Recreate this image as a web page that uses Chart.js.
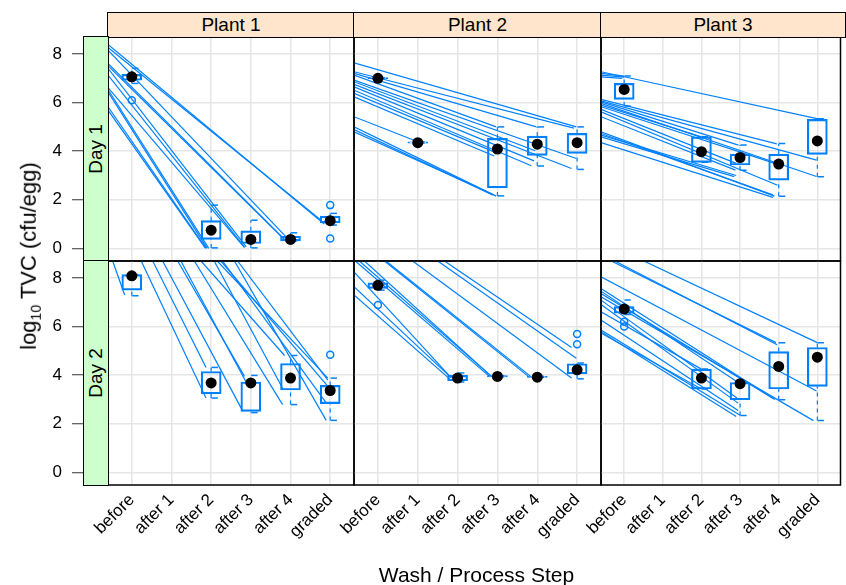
<!DOCTYPE html>
<html>
<head>
<meta charset="utf-8">
<script src="https://cdn.jsdelivr.net/npm/chart.js@4.4.1/dist/chart.umd.min.js"></script>
<style>
  html, body { margin: 0; padding: 0; background: #fff; }
  #wrap { position: relative; width: 846px; height: 585px; overflow: hidden;
          font-family: "Liberation Sans", Arial, sans-serif; color: #000; }
  #wrap canvas { position: absolute; left: 0; top: 0; }
  .strip { position: absolute; box-sizing: border-box; border: 1.5px solid #000;
           display: flex; align-items: center; justify-content: center;
           font-size: 19px; z-index: 5; white-space: nowrap; }
  .strip.top { background: #ffe5cc; }
  .strip.side { background: #ccffcc; }
  .strip.side span { display: inline-block; transform: rotate(-90deg); }
  .title { position: absolute; font-size: 21px; white-space: nowrap; z-index: 6; }
  .title sub { font-size: 14px; }
</style>
</head>
<body>
<div id="wrap"></div>
<script>
// ---- categories and labels ----
const STEPS = ['before', 'after 1', 'after 2', 'after 3', 'after 4', 'graded'];
const STEP_POS = [1, 2, 3, 4, 5, 6];
const PLANTS = ['Plant 1', 'Plant 2', 'Plant 3'];
const DAYS = ['Day 1', 'Day 2'];
const Y_TICKS = [0, 2, 4, 6, 8];

// ---- box statistics: [step, lower whisker, Q1, median, Q3, upper whisker] ----
const STATS_P1_D1 = [
  [1, 6.79, 6.92, 7.06, 7.16, 7.41],
  [3, 0.02, 0.37, 0.75, 1.14, 1.78],
  [4, 0.02, 0.20, 0.37, 0.72, 1.16],
  [5, 0.31, 0.31, 0.37, 0.50, 0.64],
  [6, 0.96, 1.05, 1.14, 1.33, 1.44]
];
const STATS_P2_D1 = [
  [1, 6.98, 6.98, 7.00, 7.03, 7.03],
  [2, 4.33, 4.33, 4.35, 4.38, 4.38],
  [4, 2.16, 2.49, 4.09, 4.53, 5.00],
  [5, 3.39, 3.83, 4.29, 4.62, 5.00],
  [6, 3.25, 3.91, 4.35, 4.73, 5.00]
];
const STATS_P3_D1 = [
  [1, 5.86, 6.13, 6.54, 6.79, 7.09],
  [3, 3.54, 3.54, 3.98, 4.59, 4.59],
  [4, 3.22, 3.43, 3.74, 3.88, 4.25],
  [5, 2.15, 2.81, 3.47, 3.88, 4.32],
  [6, 2.95, 3.87, 4.42, 5.31, 5.33]
];
const STATS_P1_D2 = [
  [1, 7.27, 7.50, 8.09, 8.14, 8.14],
  [3, 3.06, 3.23, 3.68, 4.15, 4.32],
  [4, 2.46, 2.51, 3.68, 3.72, 3.99],
  [5, 2.79, 3.39, 3.88, 4.48, 4.81],
  [6, 2.14, 2.83, 3.37, 3.58, 3.88]
];
const STATS_P2_D2 = [
  [1, 7.50, 7.57, 7.70, 7.80, 7.91],
  [3, 3.72, 3.77, 3.88, 3.99, 4.09],
  [4, 3.93, 3.93, 3.95, 3.98, 3.98],
  [5, 3.91, 3.91, 3.92, 3.95, 3.95],
  [6, 3.85, 4.06, 4.22, 4.47, 4.50]
];
const STATS_P3_D2 = [
  [1, 6.50, 6.55, 6.72, 6.82, 7.09],
  [3, 3.43, 3.43, 3.88, 4.25, 4.25],
  [4, 2.34, 2.99, 3.65, 3.70, 3.70],
  [5, 2.99, 3.43, 4.36, 4.97, 5.34],
  [6, 2.13, 3.54, 4.74, 5.14, 5.34]
];

// ---- outlying eggs: [step, value] ----
const OUT_P1_D1 = [[1, 6.10], [6, 1.78], [6, 0.41]];
const OUT_P2_D1 = [];
const OUT_P3_D1 = [];
const OUT_P1_D2 = [[6, 4.84]];
const OUT_P2_D2 = [[1, 6.89], [6, 5.70], [6, 5.27]];
const OUT_P3_D2 = [[1, 6.20], [1, 6.00]];

// ---- per-egg trace segments: [x start, value start, x end, value end] ----
const LINES_P1_D1 = [
  [0.4, 8.39, 5.85, 1.00], [0.4, 8.27, 5.77, 1.16], [0.4, 8.16, 4.90, 0.45],
  [0.4, 7.61, 4.85, 0.37], [0.4, 7.52, 4.82, 0.40], [0.4, 7.41, 3.88, 0.07],
  [0.4, 7.13, 3.84, 0.05], [0.4, 6.62, 3.84, 0.03], [0.4, 6.54, 2.94, 0.00],
  [0.4, 6.44, 2.90, 0.00], [0.4, 5.83, 2.87, 0.00], [0.4, 5.69, 2.85, 0.02]
];
const LINES_P2_D1 = [
  [0.4, 7.64, 5.98, 5.00], [0.4, 7.27, 5.92, 4.95], [0.4, 7.20, 4.98, 5.00],
  [0.4, 7.13, 3.97, 5.00], [0.4, 6.93, 5.98, 3.70], [0.4, 6.86, 4.95, 4.02],
  [0.4, 6.75, 5.86, 3.29], [0.4, 6.65, 4.92, 3.60], [0.4, 6.51, 4.85, 3.40],
  [0.4, 6.38, 3.95, 3.95], [0.4, 6.24, 3.92, 3.80], [0.4, 5.42, 2.00, 4.39],
  [0.4, 5.00, 3.97, 2.15], [0.4, 4.89, 3.89, 2.19], [0.4, 4.80, 3.85, 2.25]
];
const LINES_P3_D1 = [
  [0.4, 7.27, 6.02, 5.33], [0.4, 7.20, 1.00, 7.09], [0.4, 7.13, 1.00, 7.05],
  [0.4, 7.06, 0.95, 7.00], [0.4, 6.13, 4.95, 4.30], [0.4, 6.07, 5.98, 3.63],
  [0.4, 6.03, 3.96, 4.25], [0.4, 5.97, 5.98, 2.96], [0.4, 5.90, 3.00, 4.59],
  [0.4, 5.83, 4.90, 3.50], [0.4, 5.72, 3.90, 3.50], [0.4, 5.62, 4.97, 2.60],
  [0.4, 5.42, 3.88, 3.22], [0.4, 4.80, 4.89, 2.15], [0.4, 4.73, 4.85, 2.20],
  [0.4, 4.66, 3.90, 3.00], [0.4, 4.59, 3.85, 2.95], [0.4, 4.35, 4.85, 2.10]
];
const LINES_P1_D2 = [
  [0.52, 8.69, 0.82, 7.30], [1.24, 8.69, 2.87, 3.06], [1.53, 8.69, 2.87, 4.32],
  [1.78, 8.69, 3.80, 2.51], [2.16, 8.69, 3.84, 3.95], [2.24, 8.69, 3.88, 3.72],
  [2.58, 8.69, 4.80, 2.79], [2.75, 8.69, 4.85, 4.81], [3.08, 8.69, 4.82, 3.40],
  [3.16, 8.69, 5.94, 3.88], [3.25, 8.69, 5.92, 3.58], [3.29, 8.69, 5.90, 2.86],
  [3.59, 8.69, 5.90, 2.14], [3.67, 8.69, 5.94, 3.80]
];
const LINES_P2_D2 = [
  [0.4, 8.25, 2.82, 3.93], [0.4, 7.64, 2.85, 3.88], [0.4, 7.30, 2.80, 3.85],
  [0.44, 8.69, 3.80, 3.95], [0.54, 8.69, 3.84, 3.97], [0.67, 8.69, 3.86, 3.93],
  [1.17, 8.69, 4.81, 3.91], [1.21, 8.69, 4.85, 3.93], [1.88, 8.69, 5.86, 3.88],
  [2.51, 8.69, 5.98, 4.70], [2.68, 8.69, 5.86, 5.14]
];
const LINES_P3_D2 = [
  [0.68, 8.69, 4.93, 5.34], [0.77, 8.69, 4.96, 5.25], [1.52, 8.69, 6.00, 5.34],
  [0.4, 8.05, 5.98, 3.35], [0.4, 7.57, 4.85, 3.05], [0.4, 7.46, 3.95, 3.70],
  [0.4, 7.36, 4.90, 3.00], [0.4, 7.23, 5.90, 2.13], [0.4, 7.09, 3.92, 3.06],
  [0.4, 6.91, 3.95, 2.85], [0.4, 6.61, 3.00, 4.25], [0.4, 6.27, 3.95, 2.55],
  [0.4, 5.86, 4.00, 2.35], [0.4, 5.79, 3.90, 2.30], [0.4, 5.73, 3.00, 3.43]
];

const PANELS = [
  { plant: 0, day: 0, stats: STATS_P1_D1, out: OUT_P1_D1, lines: LINES_P1_D1 },
  { plant: 1, day: 0, stats: STATS_P2_D1, out: OUT_P2_D1, lines: LINES_P2_D1 },
  { plant: 2, day: 0, stats: STATS_P3_D1, out: OUT_P3_D1, lines: LINES_P3_D1 },
  { plant: 0, day: 1, stats: STATS_P1_D2, out: OUT_P1_D2, lines: LINES_P1_D2 },
  { plant: 1, day: 1, stats: STATS_P2_D2, out: OUT_P2_D2, lines: LINES_P2_D2 },
  { plant: 2, day: 1, stats: STATS_P3_D2, out: OUT_P3_D2, lines: LINES_P3_D2 }
];

// ---- page layout (pixels) ----
const W = 846, H = 585;
const COL_L = [108, 354, 601], COL_R = [354, 601, 845];
const ROW_T = [37, 261], ROW_B = [261, 485];
const STRIP_TOP = 12, SIDE_L = 83;
const BLUE = '#0080ff';
const GRID = '#e6e6e6';
const FONT = '"Liberation Sans", Arial, sans-serif';

const wrap = document.getElementById('wrap');

const panelFrame = {
  id: 'panelFrame',
  afterDraw(chart) {
    const a = chart.chartArea, ctx = chart.ctx;
    ctx.save();
    ctx.strokeStyle = '#000';
    ctx.lineWidth = 1.5;
    ctx.strokeRect(a.left, a.top, a.right - a.left, a.bottom - a.top);
    ctx.restore();
  }
};

function seg(x0, y0, x1, y1, extra) {
  return Object.assign({
    type: 'scatter', showLine: true,
    data: [{ x: x0, y: y0 }, { x: x1, y: y1 }],
    borderColor: BLUE, borderWidth: 1.2, pointRadius: 0, tension: 0, order: 3
  }, extra || {});
}

function buildPanel(p) {
  const col = p.plant, row = p.day;
  const cvs = document.createElement('canvas');
  cvs.width = W; cvs.height = H;
  wrap.appendChild(cvs);

  const datasets = [];
  p.lines.forEach(s => datasets.push(seg(s[0], s[1], s[2], s[3])));

  p.stats.forEach(r => {
    const [x, lo, q1, , q3, hi] = r;
    if (lo < q1) datasets.push(seg(x, lo, x, q1, { borderDash: [4, 4], order: 2 }));
    if (hi > q3) datasets.push(seg(x, q3, x, hi, { borderDash: [4, 4], order: 2 }));
    datasets.push(seg(x + 0.01, lo, x + 0.17, lo, { borderWidth: 1.5, order: 2 }));
    datasets.push(seg(x + 0.01, hi, x + 0.17, hi, { borderWidth: 1.5, order: 2 }));
  });

  datasets.push({
    type: 'bar',
    data: p.stats.map(r => ({ x: r[0], y: [r[2], r[4]] })),
    backgroundColor: 'rgba(0,0,0,0)', borderColor: BLUE, borderWidth: 1.5,
    borderSkipped: false, barThickness: 20, order: 2
  });

  datasets.push({
    type: 'scatter',
    data: p.out.map(o => ({ x: o[0], y: o[1] })),
    pointRadius: 3.5, pointBorderWidth: 1.5, pointStyle: 'circle',
    borderColor: BLUE, backgroundColor: 'rgba(0,0,0,0)', order: 1
  });

  datasets.push({
    type: 'scatter',
    data: p.stats.map(r => ({ x: r[0], y: r[3] })),
    pointRadius: 5.5, pointBorderWidth: 0, pointStyle: 'circle',
    backgroundColor: '#000', borderColor: '#000', order: 0
  });

  new Chart(cvs, {
    type: 'scatter',
    data: { datasets },
    options: {
      responsive: false, animation: false, events: [],
      layout: {
        padding: {
          left: col === 0 ? 0 : COL_L[col],
          right: W - COL_R[col],
          top: ROW_T[row],
          bottom: row === 1 ? 0 : H - ROW_B[row]
        }
      },
      plugins: { legend: { display: false }, tooltip: { enabled: false } },
      scales: {
        x: {
          type: 'linear', min: 0.4, max: 6.6, offset: false,
          afterBuildTicks: s => { s.ticks = STEP_POS.map(v => ({ value: v })); },
          afterFit: s => { s.height = row === 1 ? H - ROW_B[1] : 0; },
          grid: { color: GRID, lineWidth: 1.5, drawTicks: false, offset: false },
          border: { display: false },
          ticks: {
            display: row === 1, autoSkip: false, minRotation: 45, maxRotation: 45,
            padding: 5, color: '#000', font: { family: FONT, size: 17 },
            callback: v => STEPS[Math.round(v) - 1]
          }
        },
        y: {
          type: 'linear', min: -0.52, max: 8.7,
          afterBuildTicks: s => { s.ticks = Y_TICKS.map(v => ({ value: v })); },
          afterFit: s => { s.width = col === 0 ? COL_L[0] : 0; },
          grid: {
            color: GRID, lineWidth: 1.5, drawTicks: col === 0,
            tickLength: COL_L[0] - SIDE_L + 11, tickColor: '#333', tickWidth: 1.2
          },
          border: { display: false },
          ticks: {
            display: col === 0, padding: 10, color: '#000',
            font: { family: FONT, size: 17 }
          }
        }
      }
    },
    plugins: [panelFrame]
  });
}

PANELS.forEach(buildPanel);

// ---- strips and axis titles ----
function addDiv(cls, css, html) {
  const d = document.createElement('div');
  d.className = cls;
  Object.assign(d.style, css);
  d.innerHTML = html;
  wrap.appendChild(d);
  return d;
}
PLANTS.forEach((name, i) => {
  addDiv('strip top', {
    left: (COL_L[i] - 0.75) + 'px', top: STRIP_TOP + 'px',
    width: (COL_R[i] - COL_L[i] + 1.5) + 'px', height: (ROW_T[0] - STRIP_TOP + 0.75) + 'px'
  }, name);
});
DAYS.forEach((name, i) => {
  addDiv('strip side', {
    left: SIDE_L + 'px', top: (ROW_T[i] - 0.75) + 'px',
    width: (COL_L[0] - SIDE_L + 0.75) + 'px', height: (ROW_B[i] - ROW_T[i] + 1.5) + 'px'
  }, '<span>' + name + '</span>');
});

const yt = addDiv('title', { fontSize: '22px' }, 'log<sub>10</sub> TVC (cfu/egg)');
yt.style.left = '30px'; yt.style.top = '256px';
yt.style.transform = 'translate(-50%, -50%) rotate(-90deg)';

const xt = addDiv('title', {}, 'Wash / Process Step');
xt.style.left = ((COL_L[0] + COL_R[2]) / 2) + 'px'; xt.style.top = '575px';
xt.style.transform = 'translate(-50%, -50%)';
</script>
</body>
</html>
